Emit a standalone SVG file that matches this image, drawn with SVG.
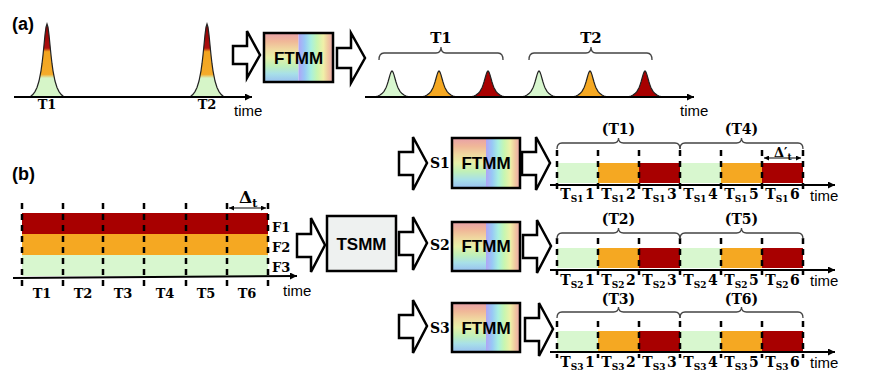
<svg xmlns="http://www.w3.org/2000/svg" width="872" height="380" viewBox="0 0 872 380">
<style>
.ax{stroke:#000;stroke-width:2;fill:none;marker-end:url(#ah)}
.dash{stroke:#000;stroke-width:2.5;stroke-dasharray:6 5;fill:none}
.brace{stroke:#444;stroke-width:1.3;fill:none}
.harrow{fill:#fff;stroke:#000;stroke-width:2.5;stroke-linejoin:miter}
.box{fill:none;stroke:#000;stroke-width:2.5}
.lbl{font-family:"DejaVu Serif",serif;font-weight:bold;fill:#000}
.time{font-family:"Liberation Sans",Arial,sans-serif;font-size:15px;fill:#000}
.mod{font-family:"Liberation Sans",Arial,sans-serif;font-weight:bold;font-size:17px;text-anchor:middle;fill:#000}
.panel{font-family:"Liberation Sans",Arial,sans-serif;font-weight:bold;font-size:18px;fill:#000}
.red{fill:#a80000}.org{fill:#f5a822}.grn{fill:#d8f7cf}
.pl{stroke:#222;stroke-width:1.2}
.darr{stroke:#000;stroke-width:1.2;fill:none;marker-start:url(#sa);marker-end:url(#sa)}
</style>
<defs>
<marker id="ah" viewBox="0 0 10 10" refX="10" refY="5" markerUnits="userSpaceOnUse" markerWidth="9" markerHeight="7" orient="auto"><path d="M0,0 L10,5 L0,10 Z" fill="#000"/></marker>
<marker id="sa" viewBox="0 0 10 10" refX="10" refY="5" markerUnits="userSpaceOnUse" markerWidth="6" markerHeight="5" orient="auto-start-reverse"><path d="M0,0 L10,5 L0,10 Z" fill="#000"/></marker>
<linearGradient id="pg" x1="0" y1="0" x2="0" y2="1">
<stop offset="0" stop-color="#8e0000"/><stop offset="0.33" stop-color="#b01010"/>
<stop offset="0.38" stop-color="#f2a41e"/><stop offset="0.69" stop-color="#f5ab2a"/>
<stop offset="0.74" stop-color="#d6f5c8"/><stop offset="1" stop-color="#d6f5c8"/>
</linearGradient>
<linearGradient id="gv" x1="0" y1="0" x2="0" y2="1">
<stop offset="0" stop-color="#e8a0a8"/><stop offset="0.17" stop-color="#f0b898"/>
<stop offset="0.33" stop-color="#f0d8a0"/><stop offset="0.5" stop-color="#e6f0a8"/>
<stop offset="0.67" stop-color="#c0f0b8"/><stop offset="0.83" stop-color="#a8e0e8"/>
<stop offset="1" stop-color="#98c0f0"/>
</linearGradient>
<linearGradient id="gh" x1="0" y1="0" x2="1" y2="0">
<stop offset="0" stop-color="#b0a4f6"/><stop offset="0.18" stop-color="#98c8f6"/>
<stop offset="0.36" stop-color="#a8f0e0"/><stop offset="0.54" stop-color="#c8f6b0"/>
<stop offset="0.72" stop-color="#f0f0a8"/><stop offset="0.86" stop-color="#f0c8a0"/>
<stop offset="1" stop-color="#e8a4a8"/>
</linearGradient>
<path id="pulseL" d="M-17,0 L-14,-2.7 L-12,-5.4 L-10,-9.5 L-8,-16 L-6,-26.2 L-5,-33.3 L-4,-42 L-3,-52 L-2,-62.1 L-1,-69.9 L0,-73 L1,-69.9 L2,-62.1 L3,-52 L4,-42 L5,-33.3 L6,-26.2 L8,-16 L10,-9.5 L12,-5.4 L14,-2.7 L17,0 Z"/>
<path id="pulseS" d="M-18,0 L-14,-1 L-12,-1.9 L-10,-3.4 L-8,-5.7 L-6,-9.3 L-5,-11.9 L-4,-15 L-3,-18.5 L-2,-22.1 L-1,-24.9 L0,-26 L1,-24.9 L2,-22.1 L3,-18.5 L4,-15 L5,-11.9 L6,-9.3 L8,-5.7 L10,-3.4 L12,-1.9 L14,-1 L18,0 Z"/>
</defs>
<rect width="872" height="380" fill="#fff"/>

<!-- (a) -->
<g id="panel-a">
<text class="panel" x="12" y="30">(a)</text>
<use href="#pulseL" x="47" y="97" fill="url(#pg)" class="pl"/>
<use href="#pulseL" x="207" y="97" fill="url(#pg)" class="pl"/>
<line class="ax" x1="14" y1="97" x2="252" y2="97"/>
<text class="lbl" x="47" y="109" font-size="13" text-anchor="middle">T1</text>
<text class="lbl" x="207" y="109" font-size="13" text-anchor="middle">T2</text>
<text class="time" x="234" y="116" font-size="16">time</text>
</g>
<g id="ftmm-a">
<rect x="264" y="33" width="34.5" height="49" fill="url(#gv)"/>
<rect x="298.5" y="33" width="34.5" height="49" fill="url(#gh)"/>
<rect class="box" x="264" y="33" width="69" height="49"/>
<text class="mod" x="298.5" y="64">FTMM</text>
</g>
<g id="output-a">
<use href="#pulseS" x="392" y="97" class="pl grn"/>
<use href="#pulseS" x="439" y="97" class="pl org"/>
<use href="#pulseS" x="488" y="97" class="pl red"/>
<use href="#pulseS" x="539" y="97" class="pl grn"/>
<use href="#pulseS" x="590" y="97" class="pl org"/>
<use href="#pulseS" x="645" y="97" class="pl red"/>
<line class="ax" x1="365" y1="97" x2="694" y2="97"/>
<path class="brace" d="M379,60 Q379,53 384,53 H436 Q441,53 441,47 Q441,53 446,53 H498 Q503,53 503,60"/>
<path class="brace" d="M529,60 Q529,53 534,53 H586 Q591,53 591,47 Q591,53 596,53 H647 Q652,53 652,60"/>
<text class="lbl" x="441" y="43" font-size="15" text-anchor="middle">T1</text>
<text class="lbl" x="591" y="43" font-size="15" text-anchor="middle">T2</text>
<text class="time" x="680" y="116" font-size="16">time</text>
</g>

<!-- (b) input -->
<g id="input-b">
<text class="panel" x="12" y="180">(b)</text>
<rect class="red" x="22" y="213" width="246" height="21"/>
<rect class="org" x="22" y="234" width="246" height="21"/>
<rect class="grn" x="22" y="255" width="246" height="21"/>
<line class="ax" x1="13" y1="278" x2="297" y2="276"/>
<g class="dash">
<line x1="22" y1="203" x2="22" y2="288"/><line x1="63" y1="203" x2="63" y2="288"/>
<line x1="103" y1="203" x2="103" y2="288"/><line x1="144" y1="203" x2="144" y2="288"/>
<line x1="186" y1="203" x2="186" y2="288"/><line x1="227" y1="203" x2="227" y2="288"/>
<line x1="268" y1="203" x2="268" y2="288"/>
</g>
<line class="darr" x1="229" y1="208" x2="266" y2="208"/>
<text class="lbl" x="239" y="203" font-size="17">Δ<tspan font-size="11" dy="4">t</tspan></text>
<text class="lbl" x="272" y="232" font-size="13">F1</text>
<text class="lbl" x="272" y="252" font-size="13">F2</text>
<text class="lbl" x="272" y="272" font-size="13">F3</text>
<g class="lbl" font-size="13" text-anchor="middle">
<text x="42" y="298">T1</text><text x="83" y="298">T2</text><text x="123" y="298">T3</text>
<text x="165" y="298">T4</text><text x="206" y="298">T5</text><text x="247" y="298">T6</text>
</g>
<text class="time" x="283" y="296" font-size="16">time</text>
</g>

<g id="tsmm">
<rect x="327" y="216" width="69" height="55" fill="#eef1f0" stroke="#000" stroke-width="2.5"/>
<text class="mod" x="361.5" y="250">TSMM</text>
</g>

<!-- S rows -->
<g id="ftmm-s1">
<rect x="452" y="138" width="34" height="50" fill="url(#gv)"/>
<rect x="486" y="138" width="34" height="50" fill="url(#gh)"/>
<rect class="box" x="452" y="138" width="68" height="50"/>
<text class="mod" x="486" y="169">FTMM</text>
</g>
<g id="ftmm-s2">
<rect x="452" y="222" width="34" height="49" fill="url(#gv)"/>
<rect x="486" y="222" width="34" height="49" fill="url(#gh)"/>
<rect class="box" x="452" y="222" width="68" height="49"/>
<text class="mod" x="486" y="252">FTMM</text>
</g>
<g id="ftmm-s3">
<rect x="452" y="303" width="34" height="49" fill="url(#gv)"/>
<rect x="486" y="303" width="34" height="49" fill="url(#gh)"/>
<rect class="box" x="452" y="303" width="68" height="49"/>
<text class="mod" x="486" y="334">FTMM</text>
</g>

<g id="row-s1">
<rect class="grn" x="557" y="163" width="41" height="20"/><rect class="org" x="598" y="163" width="41" height="20"/><rect class="red" x="639" y="163" width="41" height="20"/>
<rect class="grn" x="680" y="163" width="41" height="20"/><rect class="org" x="721" y="163" width="41" height="20"/><rect class="red" x="762" y="163" width="41" height="20"/>
<line class="ax" x1="550" y1="185" x2="835" y2="185"/>
<g class="dash">
<line x1="557" y1="150" x2="557" y2="190"/><line x1="598" y1="150" x2="598" y2="190"/><line x1="639" y1="150" x2="639" y2="190"/>
<line x1="680" y1="150" x2="680" y2="190"/><line x1="721" y1="150" x2="721" y2="190"/><line x1="762" y1="150" x2="762" y2="190"/>
<line x1="803" y1="150" x2="803" y2="190"/>
</g>
<path class="brace" d="M557,149 Q557,143 562,143 H613.5 Q618.5,143 618.5,138 Q618.5,143 623.5,143 H675 Q680,143 680,149"/>
<path class="brace" d="M680,149 Q680,143 685,143 H736.5 Q741.5,143 741.5,138 Q741.5,143 746.5,143 H798 Q803,143 803,149"/>
<text class="lbl" x="618.5" y="134" font-size="14" text-anchor="middle">(T1)</text>
<text class="lbl" x="741.5" y="134" font-size="14" text-anchor="middle">(T4)</text>
<line class="darr" x1="764" y1="158" x2="801" y2="158"/>
<text class="lbl" x="774" y="157" font-size="13">Δ′<tspan font-size="9" dy="3">t</tspan></text>
<g class="lbl" font-size="14" text-anchor="middle">
<text x="577.5" y="199">T<tspan font-size="9" dy="3">S1</tspan><tspan dx="1.5" dy="-3">1</tspan></text>
<text x="618.5" y="199">T<tspan font-size="9" dy="3">S1</tspan><tspan dx="1.5" dy="-3">2</tspan></text>
<text x="659.5" y="199">T<tspan font-size="9" dy="3">S1</tspan><tspan dx="1.5" dy="-3">3</tspan></text>
<text x="700.5" y="199">T<tspan font-size="9" dy="3">S1</tspan><tspan dx="1.5" dy="-3">4</tspan></text>
<text x="741.5" y="199">T<tspan font-size="9" dy="3">S1</tspan><tspan dx="1.5" dy="-3">5</tspan></text>
<text x="782.5" y="199">T<tspan font-size="9" dy="3">S1</tspan><tspan dx="1.5" dy="-3">6</tspan></text>
</g>
<text class="time" x="810" y="201">time</text>
</g>

<g id="row-s2">
<rect class="grn" x="557" y="248" width="41" height="20"/><rect class="org" x="598" y="248" width="41" height="20"/><rect class="red" x="639" y="248" width="41" height="20"/>
<rect class="grn" x="680" y="248" width="41" height="20"/><rect class="org" x="721" y="248" width="41" height="20"/><rect class="red" x="762" y="248" width="41" height="20"/>
<line class="ax" x1="550" y1="270" x2="835" y2="270"/>
<g class="dash">
<line x1="557" y1="238" x2="557" y2="275"/><line x1="598" y1="238" x2="598" y2="275"/><line x1="639" y1="238" x2="639" y2="275"/>
<line x1="680" y1="238" x2="680" y2="275"/><line x1="721" y1="238" x2="721" y2="275"/><line x1="762" y1="238" x2="762" y2="275"/>
<line x1="803" y1="238" x2="803" y2="275"/>
</g>
<path class="brace" d="M557,239 Q557,233 562,233 H613.5 Q618.5,233 618.5,228 Q618.5,233 623.5,233 H675 Q680,233 680,239"/>
<path class="brace" d="M680,239 Q680,233 685,233 H736.5 Q741.5,233 741.5,228 Q741.5,233 746.5,233 H798 Q803,233 803,239"/>
<text class="lbl" x="618.5" y="224" font-size="14" text-anchor="middle">(T2)</text>
<text class="lbl" x="741.5" y="224" font-size="14" text-anchor="middle">(T5)</text>
<g class="lbl" font-size="14" text-anchor="middle">
<text x="577.5" y="285">T<tspan font-size="9" dy="3">S2</tspan><tspan dx="1.5" dy="-3">1</tspan></text>
<text x="618.5" y="285">T<tspan font-size="9" dy="3">S2</tspan><tspan dx="1.5" dy="-3">2</tspan></text>
<text x="659.5" y="285">T<tspan font-size="9" dy="3">S2</tspan><tspan dx="1.5" dy="-3">3</tspan></text>
<text x="700.5" y="285">T<tspan font-size="9" dy="3">S2</tspan><tspan dx="1.5" dy="-3">4</tspan></text>
<text x="741.5" y="285">T<tspan font-size="9" dy="3">S2</tspan><tspan dx="1.5" dy="-3">5</tspan></text>
<text x="782.5" y="285">T<tspan font-size="9" dy="3">S2</tspan><tspan dx="1.5" dy="-3">6</tspan></text>
</g>
<text class="time" x="810" y="286">time</text>
</g>

<g id="row-s3">
<rect class="grn" x="557" y="331" width="41" height="20"/><rect class="org" x="598" y="331" width="41" height="20"/><rect class="red" x="639" y="331" width="41" height="20"/>
<rect class="grn" x="680" y="331" width="41" height="20"/><rect class="org" x="721" y="331" width="41" height="20"/><rect class="red" x="762" y="331" width="41" height="20"/>
<line class="ax" x1="550" y1="352" x2="835" y2="352"/>
<g class="dash">
<line x1="557" y1="321" x2="557" y2="358"/><line x1="598" y1="321" x2="598" y2="358"/><line x1="639" y1="321" x2="639" y2="358"/>
<line x1="680" y1="321" x2="680" y2="358"/><line x1="721" y1="321" x2="721" y2="358"/><line x1="762" y1="321" x2="762" y2="358"/>
<line x1="803" y1="321" x2="803" y2="358"/>
</g>
<path class="brace" d="M557,318 Q557,312 562,312 H613.5 Q618.5,312 618.5,307 Q618.5,312 623.5,312 H675 Q680,312 680,318"/>
<path class="brace" d="M680,318 Q680,312 685,312 H736.5 Q741.5,312 741.5,307 Q741.5,312 746.5,312 H798 Q803,312 803,318"/>
<text class="lbl" x="618.5" y="304" font-size="14" text-anchor="middle">(T3)</text>
<text class="lbl" x="741.5" y="304" font-size="14" text-anchor="middle">(T6)</text>
<g class="lbl" font-size="14" text-anchor="middle">
<text x="577.5" y="367">T<tspan font-size="9" dy="3">S3</tspan><tspan dx="1.5" dy="-3">1</tspan></text>
<text x="618.5" y="367">T<tspan font-size="9" dy="3">S3</tspan><tspan dx="1.5" dy="-3">2</tspan></text>
<text x="659.5" y="367">T<tspan font-size="9" dy="3">S3</tspan><tspan dx="1.5" dy="-3">3</tspan></text>
<text x="700.5" y="367">T<tspan font-size="9" dy="3">S3</tspan><tspan dx="1.5" dy="-3">4</tspan></text>
<text x="741.5" y="367">T<tspan font-size="9" dy="3">S3</tspan><tspan dx="1.5" dy="-3">5</tspan></text>
<text x="782.5" y="367">T<tspan font-size="9" dy="3">S3</tspan><tspan dx="1.5" dy="-3">6</tspan></text>
</g>
<text class="time" x="810" y="368">time</text>
</g>

<!-- connectors -->
<g id="connectors">
<path class="harrow" d="M233,46 H247 V31 L260,55 L247,78 V64 H233 Z"/>
<path class="harrow" d="M337,48 H351 V33 L365,58 L351,83 V68 H337 Z"/>
<path class="harrow" d="M297,234 H311 V218 L325,245 L311,272 V257 H297 Z"/>
<path class="harrow" d="M399,152 H413 V137 L427,163 L413,190 V175 H399 Z"/>
<path class="harrow" d="M522,152 H536 V137 L550,163 L536,190 V175 H522 Z"/>
<path class="harrow" d="M399,232 H413 V217 L427,243 L413,270 V255 H399 Z"/>
<path class="harrow" d="M523,235 H537 V220 L551,246 L537,273 V258 H523 Z"/>
<path class="harrow" d="M399,315 H413 V300 L427,326 L413,353 V338 H399 Z"/>
<path class="harrow" d="M525,318 H539 V303 L553,329 L539,356 V341 H525 Z"/>
</g>
<g id="s-labels" class="lbl" font-size="14">
<text x="430" y="168">S1</text>
<text x="430" y="250">S2</text>
<text x="430" y="333">S3</text>
</g>
</svg>
